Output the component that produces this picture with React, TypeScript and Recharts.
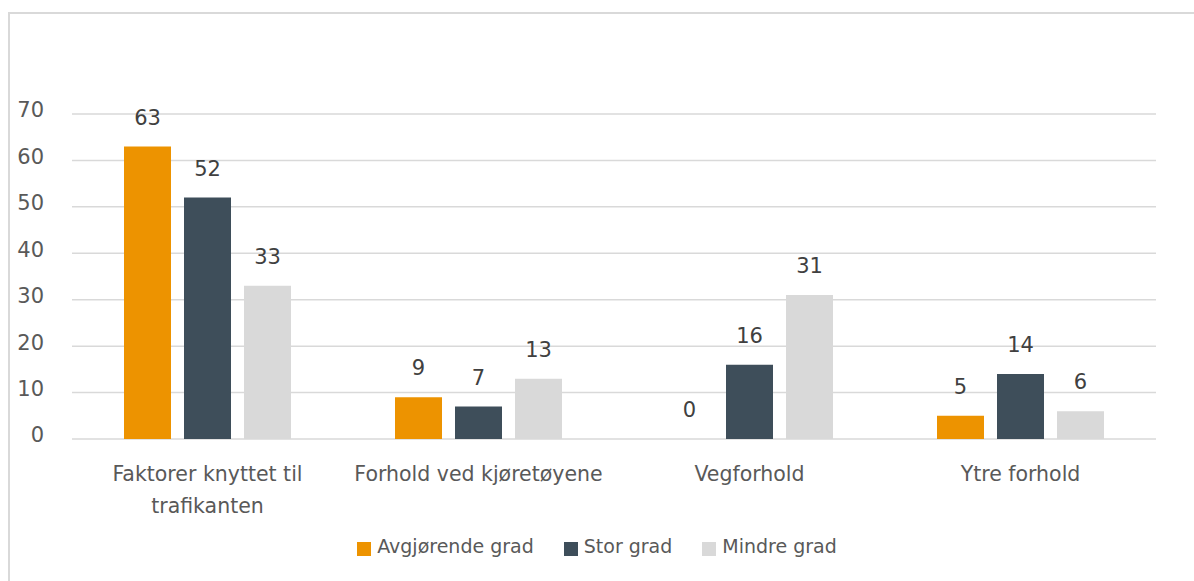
import { BarChart, Bar, XAxis, YAxis, CartesianGrid, Legend, LabelList } from 'recharts';

// kategorier og verdier lest av figuren
const categories = ['Faktorer knyttet til trafikanten', 'Forhold ved kjøretøyene', 'Vegforhold', 'Ytre forhold'];
const avgjorende = [63, 9, 0, 5];
const stor = [52, 7, 16, 14];
const mindre = [33, 13, 31, 6];
const yTicks = [0, 10, 20, 30, 40, 50, 60, 70];
const seriesNames = ['Avgjørende grad', 'Stor grad', 'Mindre grad'];

const COLORS = {
  avgjorende: '#ED9300',
  stor: '#3E4E5A',
  mindre: '#D9D9D9',
};

const data = categories.map((name, i) => ({
  name,
  avgjorende: avgjorende[i],
  stor: stor[i],
  mindre: mindre[i],
}));

const AXIS_TEXT = '#595959';
const FONT = '"DejaVu Sans", Verdana, sans-serif';
const TICK_SIZE = 20.5;

// bryter en etikett i linjer som får plass i kategoribredden
let measureCtx: CanvasRenderingContext2D | null = null;
function wrapLabel(text: string, maxWidth: number): string[] {
  if (!measureCtx && typeof document !== 'undefined') {
    measureCtx = document.createElement('canvas').getContext('2d');
  }
  if (!measureCtx) return [text];
  measureCtx.font = `${TICK_SIZE}px "DejaVu Sans"`;
  const lines: string[] = [];
  let cur = '';
  for (const w of text.split(' ')) {
    const test = cur ? `${cur} ${w}` : w;
    if (cur && measureCtx.measureText(test).width > maxWidth) {
      lines.push(cur);
      cur = w;
    } else {
      cur = test;
    }
  }
  if (cur) lines.push(cur);
  return lines;
}

const CategoryTick = ({ x, y, payload }: any) => {
  const lines = wrapLabel(String(payload.value), 265);
  return (
    <text x={x} y={y + 42} textAnchor="middle" fill={AXIS_TEXT} fontSize={TICK_SIZE} fontFamily={FONT}>
      {lines.map((line, i) => (
        <tspan key={i} x={x} dy={i === 0 ? 0 : 32}>
          {line}
        </tspan>
      ))}
    </text>
  );
};

// verdien over hver søyle (også for 0)
const renderValue = (props: any) => {
  const { x, y, width, value } = props;
  return (
    <text x={Number(x) + Number(width) / 2} y={Number(y) - 22} textAnchor="middle" fill="#404040" fontSize={21} fontFamily={FONT}>
      {value}
    </text>
  );
};

const renderLegend = ({ payload }: any) => {
  const items = [...(payload || [])].sort((a: any, b: any) => seriesNames.indexOf(a.value) - seriesNames.indexOf(b.value));
  return (
    <div style={{ display: 'flex', justifyContent: 'center', fontFamily: FONT }}>
      {items.map((entry: any, i: number) => (
        <div
          key={`leg-${i}`}
          style={{ display: 'flex', alignItems: 'flex-start', marginRight: i < items.length - 1 ? 30 : 0 }}
        >
          <span style={{ width: 14, height: 14, background: entry.color, marginTop: 8, marginRight: 6, display: 'inline-block' }} />
          <span style={{ fontSize: 19, lineHeight: '24px', color: AXIS_TEXT }}>{entry.value}</span>
        </div>
      ))}
    </div>
  );
};

export default function App() {
  return (
    <div style={{ position: 'absolute', left: 0, top: 0, width: 1194, height: 581, overflow: 'hidden', background: '#fff', fontFamily: FONT }}>
      <div
        style={{
          position: 'absolute',
          left: 8,
          top: 12,
          width: 1300,
          height: 700,
          border: '2px solid #d9d9d9',
        }}
      />
      <div style={{ position: 'absolute', left: 0, top: 0 }}>
        <BarChart
          width={1194}
          height={581}
          data={data}
          margin={{ top: 114, right: 38, left: 0, bottom: 0 }}
          barSize={47}
          barGap={13}
        >
          <CartesianGrid vertical={false} stroke="#d9d9d9" strokeWidth={1.5} />
          <XAxis
            dataKey="name"
            height={142}
            axisLine={false}
            tickLine={false}
            tickSize={0}
            tickMargin={0}
            interval={0}
            tick={<CategoryTick />}
          />
          <YAxis
            width={72}
            domain={[0, 70]}
            ticks={yTicks}
            axisLine={false}
            tickLine={false}
            tickSize={0}
            tickMargin={28}
            tick={{ fill: AXIS_TEXT, fontSize: 21, dy: -4 }}
          />
          <Legend
            layout="horizontal"
            verticalAlign="middle"
            align="center"
            content={renderLegend}
            wrapperStyle={{ top: 534, left: 0, width: 1194 }}
          />
          <Bar dataKey="avgjorende" name={seriesNames[0]} fill={COLORS.avgjorende} minPointSize={0.01} isAnimationActive={false}>
            <LabelList dataKey="avgjorende" content={renderValue} />
          </Bar>
          <Bar dataKey="stor" name={seriesNames[1]} fill={COLORS.stor} isAnimationActive={false}>
            <LabelList dataKey="stor" content={renderValue} />
          </Bar>
          <Bar dataKey="mindre" name={seriesNames[2]} fill={COLORS.mindre} isAnimationActive={false}>
            <LabelList dataKey="mindre" content={renderValue} />
          </Bar>
        </BarChart>
      </div>
    </div>
  );
}
